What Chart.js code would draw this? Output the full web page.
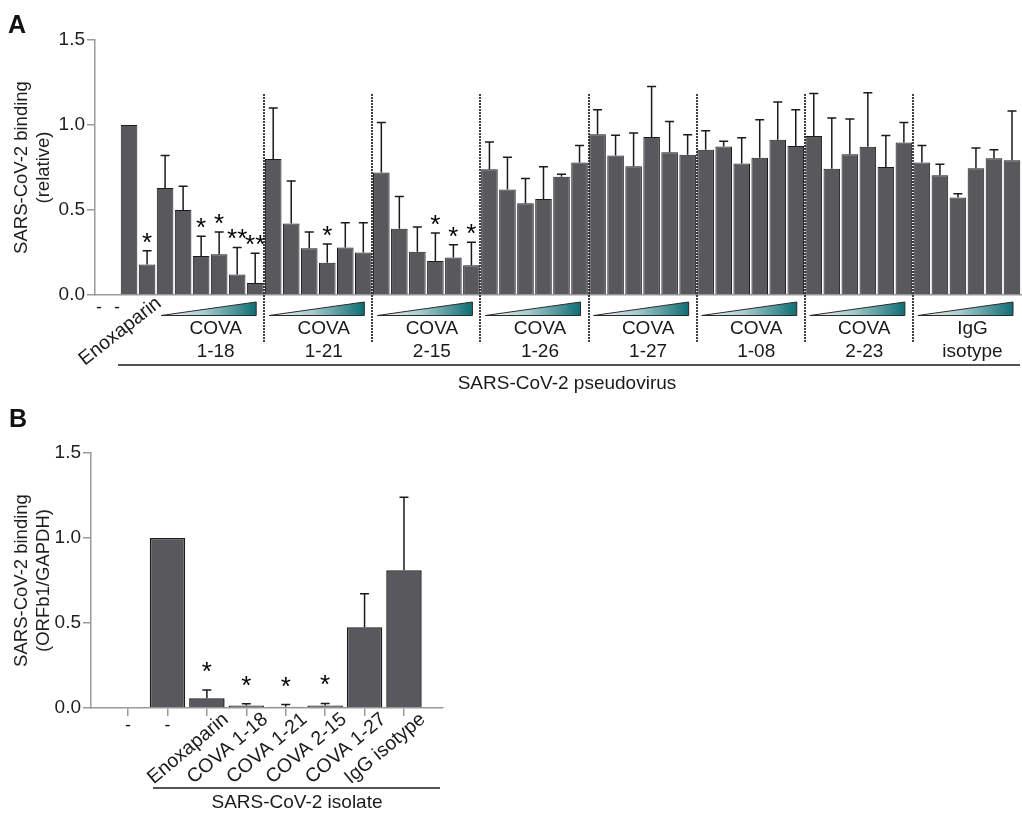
<!DOCTYPE html>
<html>
<head>
<meta charset="utf-8">
<script src="https://cdn.jsdelivr.net/npm/chart.js@4/dist/chart.umd.min.js"></script>
<style>
  body { margin: 0; background: #fff; width: 1022px; height: 813px; position: relative; overflow: hidden; }
  #chartA { position: absolute; left: 0; top: 0; }
  #chartB { position: absolute; left: 0; top: 400px; }
</style>
</head>
<body>
<canvas id="chartA" width="1022" height="400"></canvas>
<canvas id="chartB" width="460" height="413"></canvas>
<script>
var FONT = '"Liberation Sans", Arial, Helvetica, sans-serif';
var BAR = '#58585d';
var EDGE = '#1c1c1c';
var AXIS = '#9a9a9a';
var INK = '#1a1a1a';

// ---- panel A: pseudovirus binding, antibody dose series ----
var headA = ['-', '-', 'Enoxaparin'];
var headMeanA = [null, 1.00, 0.18];
var headSdA = [0, 0, 0.08];
var headStarA = ['', '', '*'];

var groupsA = [['COVA', '1-18'], ['COVA', '1-21'], ['COVA', '2-15'], ['COVA', '1-26'],
               ['COVA', '1-27'], ['COVA', '1-08'], ['COVA', '2-23'], ['IgG', 'isotype']];
var meanA = [
  [0.63, 0.50, 0.23, 0.24, 0.12, 0.07],
  [0.80, 0.42, 0.275, 0.19, 0.28, 0.25],
  [0.72, 0.39, 0.255, 0.20, 0.22, 0.175],
  [0.74, 0.62, 0.54, 0.565, 0.695, 0.78],
  [0.945, 0.82, 0.757, 0.93, 0.84, 0.825],
  [0.855, 0.873, 0.773, 0.807, 0.913, 0.876],
  [0.935, 0.743, 0.828, 0.872, 0.753, 0.897],
  [0.78, 0.704, 0.574, 0.746, 0.805, 0.793]
];
var sdA = [
  [0.19, 0.14, 0.115, 0.13, 0.16, 0.175],
  [0.30, 0.25, 0.095, 0.11, 0.145, 0.175],
  [0.295, 0.19, 0.145, 0.165, 0.075, 0.135],
  [0.16, 0.19, 0.145, 0.19, 0.015, 0.10],
  [0.145, 0.12, 0.196, 0.297, 0.18, 0.118],
  [0.111, 0.032, 0.152, 0.224, 0.223, 0.213],
  [0.25, 0.298, 0.208, 0.317, 0.185, 0.117],
  [0.099, 0.065, 0.021, 0.118, 0.049, 0.29]
];
var starA = [
  ['', '', '*', '*', '**', '**'],
  ['', '', '', '*', '', ''],
  ['', '', '', '*', '*', '*'],
  ['', '', '', '', '', ''],
  ['', '', '', '', '', ''],
  ['', '', '', '', '', ''],
  ['', '', '', '', '', ''],
  ['', '', '', '', '', '']
];

// ---- panel B: isolate binding ----
var categoriesB = ['-', '-', 'Enoxaparin', 'COVA 1-18', 'COVA 1-21', 'COVA 2-15', 'COVA 1-27', 'IgG isotype'];
var meanB = [null, 1.00, 0.057, 0.014, 0.008, 0.014, 0.475, 0.81];
var sdB = [0, 0, 0.049, 0.011, 0.012, 0.013, 0.197, 0.429];
var starB = ['', '', '*', '*', '*', '*', '', ''];

var yTicks = [0, 0.5, 1.0, 1.5];

// flatten panel A into one index per bar
var meanFlatA = headMeanA.slice();
var sdFlatA = headSdA.slice();
var starFlatA = headStarA.slice();
meanA.forEach(function (g, gi) {
  g.forEach(function (v, j) {
    meanFlatA.push(v);
    sdFlatA.push(sdA[gi][j]);
    starFlatA.push(starA[gi][j]);
  });
});
var groupStartA = groupsA.map(function (g, gi) { return headA.length + gi * 6; });

function drawWhiskers(chart, means, sds, stars, starGap) {
  var ctx = chart.ctx, x = chart.scales.x, y = chart.scales.y;
  ctx.save();
  ctx.strokeStyle = INK;
  ctx.lineWidth = 1.5;
  ctx.fillStyle = '#000';
  ctx.font = '26px ' + FONT;
  ctx.textAlign = 'center';
  ctx.textBaseline = 'alphabetic';
  means.forEach(function (m, i) {
    if (m === null) return;
    var px = x.getPixelForValue(i);
    var top = y.getPixelForValue(m + sds[i]);
    if (sds[i] > 0) {
      ctx.beginPath();
      ctx.moveTo(px, y.getPixelForValue(m));
      ctx.lineTo(px, top);
      ctx.moveTo(px - 4.5, top);
      ctx.lineTo(px + 4.5, top);
      ctx.stroke();
    }
    if (stars[i]) {
      ctx.fillText(stars[i], px, top - starGap + 14);
    }
  });
  ctx.restore();
}

function baseScales(yWidth, xHeight, xMin, xMax, title) {
  return {
    x: {
      type: 'linear', min: xMin, max: xMax, offset: false,
      ticks: { display: false },
      grid: { display: false, offset: false },
      border: { color: AXIS, width: 1.5 },
      afterFit: function (s) { s.height = xHeight; }
    },
    y: {
      min: 0, max: 1.5,
      afterBuildTicks: function (s) { s.ticks = yTicks.map(function (v) { return { value: v }; }); },
      ticks: {
        callback: function (v) { return Number(v).toFixed(1); },
        color: '#1e1e1e', font: { family: FONT, size: 19 }, padding: 2
      },
      grid: { drawOnChartArea: false, tickLength: 8, color: AXIS, lineWidth: 1.5 },
      border: { color: AXIS, width: 1.5 },
      title: {
        display: true, text: title, color: '#1e1e1e',
        font: { family: FONT, size: 18.5, lineHeight: 1.2 },
        padding: { top: 11, bottom: 0 }
      },
      afterFit: function (s) { s.width = yWidth; }
    }
  };
}

var annotateA = {
  id: 'annotateA',
  afterDatasetsDraw: function (chart) {
    var ctx = chart.ctx, x = chart.scales.x;
    drawWhiskers(chart, meanFlatA, sdFlatA, starFlatA, 14);
    // dotted separators between antibody groups
    ctx.save();
    ctx.strokeStyle = '#111';
    ctx.lineWidth = 1.6;
    ctx.setLineDash([2, 1]);
    groupStartA.slice(1).forEach(function (k) {
      var sx = Math.round(x.getPixelForValue(k - 0.5));
      ctx.beginPath();
      ctx.moveTo(sx, 94);
      ctx.lineTo(sx, 342);
      ctx.stroke();
    });
    ctx.restore();
  },
  afterDraw: function (chart) {
    var ctx = chart.ctx, x = chart.scales.x;
    ctx.save();
    ctx.fillStyle = '#111';
    ctx.font = 'bold 25px ' + FONT;
    ctx.textAlign = 'left';
    ctx.textBaseline = 'alphabetic';
    ctx.fillText('A', 8, 33);

    ctx.fillStyle = INK;
    ctx.font = '18px ' + FONT;
    ctx.textAlign = 'center';
    ctx.fillText(headA[0], x.getPixelForValue(0) - 12, 313);
    ctx.fillText(headA[1], x.getPixelForValue(1) - 12, 313);

    ctx.save();
    ctx.font = '19.5px ' + FONT;
    ctx.translate(x.getPixelForValue(2) + 12, 301);
    ctx.rotate(-38 * Math.PI / 180);
    ctx.textAlign = 'right';
    ctx.textBaseline = 'middle';
    ctx.fillText(headA[2], 0, 0);
    ctx.restore();

    // dose wedges and group names
    groupsA.forEach(function (g, gi) {
      var k = groupStartA[gi];
      var left = x.getPixelForValue(k - 0.5) + 5;
      var right = x.getPixelForValue(k + 5.5) - 8;
      var grad = ctx.createLinearGradient(left, 0, right, 0);
      grad.addColorStop(0, '#f4f8f9');
      grad.addColorStop(0.45, '#a6cbce');
      grad.addColorStop(1, '#0f6e73');
      ctx.beginPath();
      ctx.moveTo(left, 315.5);
      ctx.lineTo(right, 315.5);
      ctx.lineTo(right, 302);
      ctx.closePath();
      ctx.fillStyle = grad;
      ctx.fill();
      ctx.strokeStyle = '#2a2a2a';
      ctx.lineWidth = 1;
      ctx.stroke();

      var cx = (left + right) / 2 + 7;
      ctx.fillStyle = INK;
      ctx.font = '19px ' + FONT;
      ctx.textAlign = 'center';
      ctx.textBaseline = 'alphabetic';
      ctx.fillText(g[0], cx, 334);
      ctx.fillText(g[1], cx, 357);
    });

    ctx.strokeStyle = INK;
    ctx.lineWidth = 1.5;
    ctx.beginPath();
    ctx.moveTo(118, 365);
    ctx.lineTo(1020, 365);
    ctx.stroke();
    ctx.fillStyle = INK;
    ctx.font = '19px ' + FONT;
    ctx.textAlign = 'center';
    ctx.fillText('SARS-CoV-2 pseudovirus', 567, 389);
    ctx.restore();
  }
};

var annotateB = {
  id: 'annotateB',
  afterDatasetsDraw: function (chart) {
    drawWhiskers(chart, meanB, sdB, starB, 24);
  },
  afterDraw: function (chart) {
    var ctx = chart.ctx, x = chart.scales.x;
    ctx.save();
    ctx.fillStyle = '#111';
    ctx.font = 'bold 25px ' + FONT;
    ctx.textAlign = 'left';
    ctx.textBaseline = 'alphabetic';
    ctx.fillText('B', 9, 27);

    ctx.fillStyle = INK;
    categoriesB.forEach(function (c, i) {
      var px = x.getPixelForValue(i);
      if (c === '-') {
        ctx.font = '18px ' + FONT;
        ctx.textAlign = 'center';
        ctx.textBaseline = 'alphabetic';
        ctx.fillText(c, px, 331);
        return;
      }
      ctx.save();
      ctx.font = '19.5px ' + FONT;
      ctx.translate(px + 19, 317);
      ctx.rotate(-40 * Math.PI / 180);
      ctx.textAlign = 'right';
      ctx.textBaseline = 'middle';
      ctx.fillText(c, 0, 0);
      ctx.restore();
    });

    ctx.strokeStyle = INK;
    ctx.lineWidth = 1.5;
    ctx.beginPath();
    ctx.moveTo(153, 388);
    ctx.lineTo(440, 388);
    ctx.stroke();
    ctx.font = '19px ' + FONT;
    ctx.textAlign = 'center';
    ctx.textBaseline = 'alphabetic';
    ctx.fillText('SARS-CoV-2 isolate', 297, 408);
    ctx.restore();
  }
};

var optsA = {
  responsive: false,
  animation: false,
  layout: { padding: { top: 40, right: 1, left: 0, bottom: 0 } },
  plugins: { legend: { display: false }, tooltip: { enabled: false } },
  scales: baseScales(95, 105, -0.89, 50.5, ['SARS-CoV-2 binding', '(relative)'])
};

new Chart(document.getElementById('chartA'), {
  type: 'bar',
  data: {
    datasets: [{
      data: meanFlatA.map(function (v, i) { return { x: i, y: v }; }),
      backgroundColor: BAR,
      borderColor: EDGE,
      borderWidth: 1,
      barPercentage: 0.92,
      categoryPercentage: 1
    }]
  },
  options: optsA,
  plugins: [annotateA]
});

var optsB = {
  responsive: false,
  animation: false,
  layout: { padding: { top: 53, right: 17, left: 0, bottom: 0 } },
  plugins: { legend: { display: false }, tooltip: { enabled: false } },
  scales: baseScales(91, 105, -0.94, 7.99, ['SARS-CoV-2 binding', '(ORFb1/GAPDH)'])
};
// category tick marks under panel B
optsB.scales.x.afterBuildTicks = function (s) {
  s.ticks = categoriesB.map(function (c, i) { return { value: i }; });
};
optsB.scales.x.grid = { display: true, drawOnChartArea: false, drawTicks: true, tickLength: 8, color: AXIS, lineWidth: 1.5, offset: false };

new Chart(document.getElementById('chartB'), {
  type: 'bar',
  data: {
    datasets: [{
      data: meanB.map(function (v, i) { return { x: i, y: v }; }),
      backgroundColor: BAR,
      borderColor: EDGE,
      borderWidth: 1.5,
      barPercentage: 0.9,
      categoryPercentage: 1
    }]
  },
  options: optsB,
  plugins: [annotateB]
});
</script>
</body>
</html>
